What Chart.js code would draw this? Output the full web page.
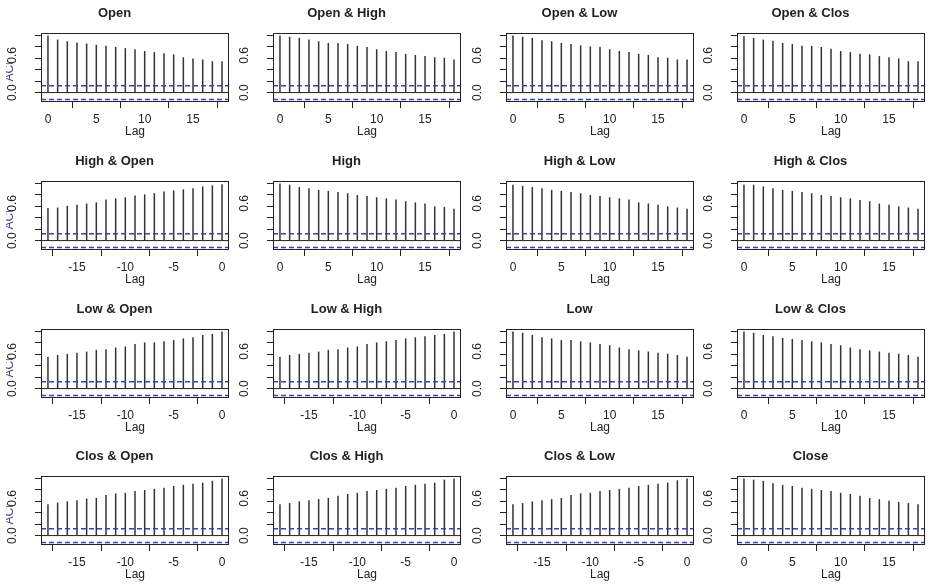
<!DOCTYPE html>
<html>
<head>
<meta charset="utf-8">
<script src="https://cdn.jsdelivr.net/npm/chart.js@4.4.1/dist/chart.umd.min.js"></script>
<style>
  html, body { margin: 0; background: #fff; }
  #wrap { position: relative; width: 928px; height: 587px; overflow: hidden; }
  #wrap canvas { position: absolute; }
</style>
</head>
<body>
<div id="wrap"></div>
<script>
// lags on the x axis (upper triangle uses positive lags, lower triangle negative)
const lagsPos = [0, 1, 2, 3, 4, 5, 6, 7, 8, 9, 10, 11, 12, 13, 14, 15, 16, 17, 18];
const lagsNeg = [-18, -17, -16, -15, -14, -13, -12, -11, -10, -9, -8, -7, -6, -5, -4, -3, -2, -1, 0];
const xTicksPos = [0, 5, 10, 15];
const xTicksNeg = [-15, -10, -5, 0];
const yTicks = [0, 0.2, 0.4, 0.6, 0.8, 1.0];
const yLabelVals = [0, 0.6];
const yLabelText = ['0.0', '0.6'];
const ciBound = 0.12;

const acfOpen      = [1.00, 0.93, 0.90, 0.88, 0.86, 0.84, 0.82, 0.80, 0.78, 0.76, 0.73, 0.71, 0.69, 0.67, 0.62, 0.60, 0.58, 0.55, 0.55];
const acfOpenHigh  = [1.00, 0.98, 0.96, 0.93, 0.90, 0.87, 0.87, 0.85, 0.82, 0.80, 0.76, 0.73, 0.71, 0.68, 0.66, 0.64, 0.62, 0.61, 0.58];
const acfOpenLow   = [1.00, 0.98, 0.96, 0.92, 0.90, 0.87, 0.85, 0.83, 0.81, 0.80, 0.76, 0.73, 0.71, 0.68, 0.66, 0.62, 0.61, 0.58, 0.58];
const acfOpenClos  = [0.99, 0.96, 0.93, 0.91, 0.87, 0.85, 0.82, 0.82, 0.80, 0.77, 0.73, 0.71, 0.68, 0.67, 0.64, 0.62, 0.60, 0.55, 0.55];
const acfHighOpen  = [0.57, 0.58, 0.61, 0.63, 0.65, 0.67, 0.72, 0.74, 0.76, 0.79, 0.81, 0.83, 0.86, 0.88, 0.90, 0.92, 0.95, 0.97, 0.99];
const acfHigh      = [1.00, 0.98, 0.94, 0.92, 0.89, 0.87, 0.85, 0.83, 0.80, 0.78, 0.76, 0.74, 0.72, 0.69, 0.67, 0.65, 0.60, 0.59, 0.56];
const acfHighLow   = [0.98, 0.96, 0.94, 0.92, 0.89, 0.87, 0.85, 0.83, 0.80, 0.78, 0.76, 0.74, 0.72, 0.67, 0.65, 0.63, 0.60, 0.58, 0.56];
const acfHighClos  = [0.98, 0.98, 0.95, 0.92, 0.89, 0.87, 0.85, 0.83, 0.80, 0.78, 0.76, 0.74, 0.71, 0.69, 0.65, 0.63, 0.60, 0.58, 0.56];
const acfLowOpen   = [0.56, 0.59, 0.61, 0.63, 0.65, 0.68, 0.69, 0.72, 0.74, 0.78, 0.81, 0.81, 0.83, 0.85, 0.88, 0.90, 0.94, 0.96, 1.00];
const acfLowHigh   = [0.56, 0.59, 0.61, 0.63, 0.65, 0.68, 0.69, 0.72, 0.74, 0.78, 0.81, 0.83, 0.85, 0.88, 0.90, 0.92, 0.94, 0.96, 1.00];
const acfLow       = [1.00, 0.98, 0.94, 0.90, 0.88, 0.85, 0.85, 0.83, 0.81, 0.78, 0.76, 0.72, 0.69, 0.67, 0.65, 0.63, 0.61, 0.59, 0.56];
const acfLowClos   = [1.00, 0.98, 0.94, 0.92, 0.89, 0.87, 0.85, 0.83, 0.81, 0.78, 0.76, 0.72, 0.69, 0.67, 0.65, 0.63, 0.61, 0.59, 0.56];
const acfClosOpen  = [0.55, 0.58, 0.60, 0.62, 0.65, 0.66, 0.71, 0.74, 0.75, 0.78, 0.80, 0.82, 0.84, 0.87, 0.89, 0.91, 0.93, 0.96, 1.00];
const acfClosHigh  = [0.55, 0.57, 0.60, 0.62, 0.64, 0.66, 0.70, 0.73, 0.75, 0.78, 0.80, 0.82, 0.84, 0.87, 0.89, 0.91, 0.93, 0.98, 1.00];
const acfClosLow   = [0.55, 0.57, 0.60, 0.62, 0.64, 0.66, 0.71, 0.74, 0.75, 0.78, 0.80, 0.82, 0.84, 0.87, 0.89, 0.91, 0.93, 0.97, 1.00];
const acfClose     = [1.00, 0.98, 0.96, 0.92, 0.89, 0.87, 0.84, 0.82, 0.80, 0.78, 0.75, 0.73, 0.70, 0.66, 0.64, 0.61, 0.59, 0.57, 0.55];

const panelTitles = [
  'Open', 'Open & High', 'Open & Low', 'Open & Clos',
  'High & Open', 'High', 'High & Low', 'High & Clos',
  'Low & Open', 'Low & High', 'Low', 'Low & Clos',
  'Clos & Open', 'Clos & High', 'Clos & Low', 'Close',
];
const panelValues = [
  acfOpen, acfOpenHigh, acfOpenLow, acfOpenClos,
  acfHighOpen, acfHigh, acfHighLow, acfHighClos,
  acfLowOpen, acfLowHigh, acfLow, acfLowClos,
  acfClosOpen, acfClosHigh, acfClosLow, acfClose,
];

const FONT = '"Liberation Sans", Arial, Helvetica, sans-serif';
const INK = '#222';
const CI_BLUE = '#3a3ad8';
const colLeft = [0, 232, 465, 696];
const rowTop = [0, 148, 296, 443];

// box around the plot region, rotated y tick labels and the clipped "ACF" label (R style)
const acfFrame = {
  id: 'acfFrame',
  afterDatasetsDraw(chart, args, opts) {
    const { ctx, chartArea: a, scales: { y } } = chart;
    ctx.save();
    ctx.strokeStyle = INK;
    ctx.lineWidth = 1;
    ctx.strokeRect(Math.round(a.left) + 0.5, Math.round(a.top) + 0.5,
      Math.round(a.right - a.left) - 1, Math.round(a.bottom - a.top) - 1);

    ctx.fillStyle = INK;
    ctx.font = `12px ${FONT}`;
    ctx.textAlign = 'center';
    ctx.textBaseline = 'middle';
    yLabelVals.forEach((v, i) => {
      ctx.save();
      ctx.translate(a.left - 28, y.getPixelForValue(v) - (v > 0 ? 3 : 0));
      ctx.rotate(-Math.PI / 2);
      ctx.fillText(yLabelText[i], 0, 0);
      ctx.restore();
    });

    if (opts.ylab) {
      ctx.save();
      ctx.beginPath();
      ctx.rect(6, y.getPixelForValue(0.52), 12, y.getPixelForValue(0.13) - y.getPixelForValue(0.52));
      ctx.clip();
      ctx.fillStyle = '#45457a';
      ctx.translate(10, (a.top + a.bottom) / 2 + 2);
      ctx.rotate(-Math.PI / 2);
      ctx.fillText('ACF', 0, 0);
      ctx.restore();
    }
    ctx.restore();
  },
};

function renderPanel(idx) {
  const row = Math.floor(idx / 4);
  const col = idx % 4;
  const negative = col < row;
  const lags = negative ? lagsNeg : lagsPos;
  const xTicks = negative ? xTicksNeg : xTicksPos;
  const xMin = negative ? -18.72 : -0.72;
  const xMax = negative ? 0.72 : 18.72;
  const vals = panelValues[idx];

  const canvas = document.createElement('canvas');
  canvas.width = 231;
  canvas.height = 140;
  canvas.style.left = colLeft[col] + 'px';
  canvas.style.top = rowTop[row] + 'px';
  document.getElementById('wrap').appendChild(canvas);

  const hline = (v) => [{ x: xMin, y: v }, { x: xMax, y: v }];

  new Chart(canvas, {
    type: 'bar',
    data: {
      datasets: [
        {
          type: 'line', data: hline(ciBound), borderColor: CI_BLUE, borderWidth: 1.5,
          borderDash: [5, 3], pointRadius: 0, order: 0,
        },
        {
          type: 'line', data: hline(-ciBound), borderColor: CI_BLUE, borderWidth: 1.5,
          borderDash: [5, 3], pointRadius: 0, order: 0,
        },
        {
          type: 'line', data: hline(0), borderColor: INK, borderWidth: 1,
          pointRadius: 0, order: 1,
        },
        {
          type: 'bar', data: lags.map((x, i) => ({ x, y: vals[i] })),
          backgroundColor: '#333', barThickness: 1.5, inflateAmount: 0, order: 2,
        },
      ],
    },
    options: {
      responsive: false,
      animation: false,
      events: [],
      layout: { padding: { left: 0, right: 2, top: 0, bottom: 0 } },
      plugins: {
        legend: { display: false },
        tooltip: { enabled: false },
        title: {
          display: true, text: panelTitles[idx], color: INK,
          font: { family: FONT, size: 13, weight: 'bold' },
          padding: { top: 6, bottom: 11.4 },
        },
        acfFrame: { ylab: col === 0 },
      },
      scales: {
        x: {
          type: 'linear', min: xMin, max: xMax, offset: false,
          afterBuildTicks: s => { s.ticks = xTicks.map(v => ({ value: v })); },
          afterFit: s => { s.height = 38; },
          grid: { drawOnChartArea: false, drawTicks: true, tickLength: 6, color: INK },
          border: { display: false },
          ticks: { color: INK, font: { family: FONT, size: 12 }, padding: 4, autoSkip: false, maxRotation: 0 },
          title: { display: true, text: 'Lag', color: INK, font: { family: FONT, size: 12 }, padding: { top: 0, bottom: 1 } },
        },
        y: {
          min: -0.165, max: 1.045,
          afterBuildTicks: s => { s.ticks = yTicks.map(v => ({ value: v })); },
          afterFit: s => { s.width = 41; },
          grid: { drawOnChartArea: false, drawTicks: true, tickLength: 6, color: INK },
          border: { display: false },
          ticks: { display: false },
        },
      },
    },
    plugins: [acfFrame],
  });
}

for (let i = 0; i < 16; i++) {
  try { renderPanel(i); } catch (e) { console.error(`acf: panel ${i} failed`, e); }
}
</script>
</body>
</html>
